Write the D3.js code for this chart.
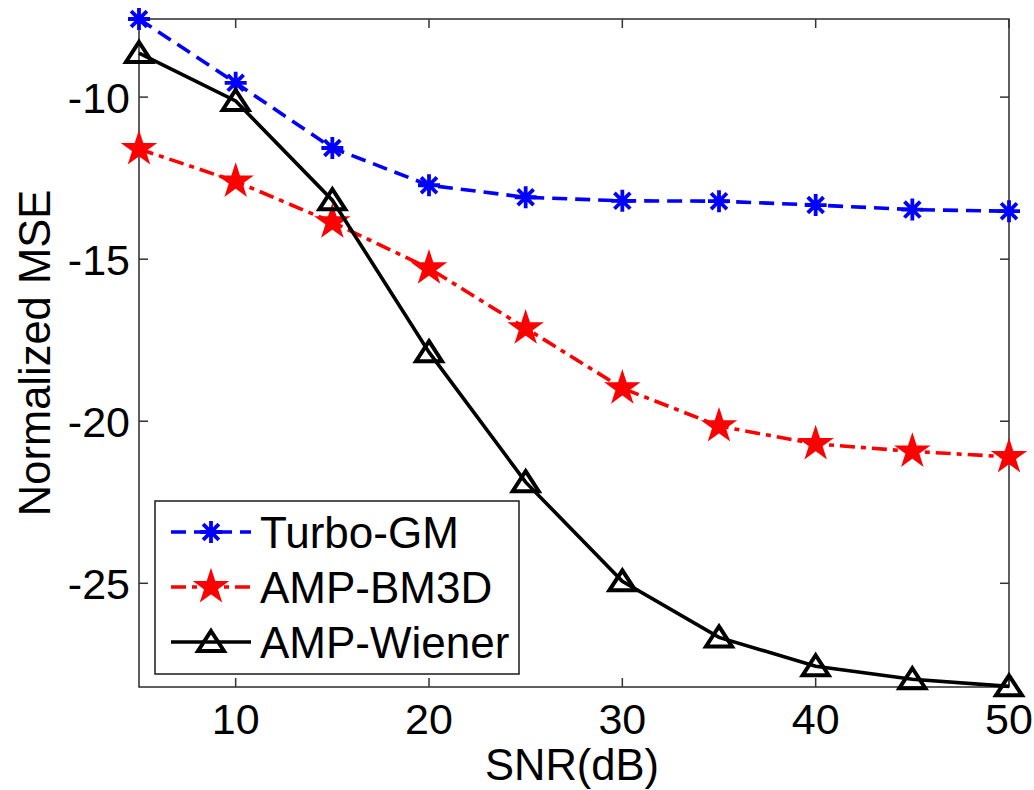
<!DOCTYPE html>
<html>
<head>
<meta charset="utf-8">
<script src="https://cdn.jsdelivr.net/npm/d3@7"></script>
<style>
  body { margin: 0; background: #fff; }
  svg { display: block; font-family: "Liberation Sans", Arial, sans-serif; }
</style>
</head>
<body>
<div id="chart"></div>
<script>
var snr = [5, 10, 15, 20, 25, 30, 35, 40, 45, 50];
var turboGM = [-7.59, -9.56, -11.57, -12.72, -13.09, -13.2, -13.21, -13.33, -13.47, -13.52];
var ampBM3D = [-11.6, -12.6, -13.86, -15.28, -17.13, -18.98, -20.15, -20.7, -20.93, -21.1];
var ampWiener = [-8.64, -10.12, -13.18, -17.87, -21.88, -24.94, -26.67, -27.56, -27.96, -28.18];
var xTicks = [10, 20, 30, 40, 50];
var yTicks = [-10, -15, -20, -25];
var seriesNames = ["Turbo-GM", "AMP-BM3D", "AMP-Wiener"];

var W = 1034, H = 790;
var margin = { top: 19, right: 25, bottom: 103, left: 139 },
    width = W - margin.left - margin.right,
    height = H - margin.top - margin.bottom;

var svg = d3.select("#chart").append("svg")
    .attr("width", W)
    .attr("height", H);

var g = svg.append("g")
    .attr("transform", "translate(" + margin.left + "," + margin.top + ")");

var x = d3.scaleLinear().domain([5, 50]).range([0, width]);
var y = d3.scaleLinear().domain([-28.2, -7.59]).range([height, 0]);

// axes box and inward ticks on all sides
g.append("rect")
    .attr("width", width).attr("height", height)
    .attr("fill", "none").attr("stroke", "#2b2b2b").attr("stroke-width", 1.5);

var tickLen = 9;
xTicks.forEach(function (t) {
    g.append("line").attr("x1", x(t)).attr("x2", x(t)).attr("y1", height).attr("y2", height - tickLen)
        .attr("stroke", "#333").attr("stroke-width", 1.5);
    g.append("line").attr("x1", x(t)).attr("x2", x(t)).attr("y1", 0).attr("y2", tickLen)
        .attr("stroke", "#333").attr("stroke-width", 1.5);
    g.append("text").attr("x", x(t)).attr("y", height + 47)
        .attr("text-anchor", "middle").style("font-size", "43px").text(t);
});
yTicks.forEach(function (t) {
    g.append("line").attr("x1", 0).attr("x2", tickLen).attr("y1", y(t)).attr("y2", y(t))
        .attr("stroke", "#333").attr("stroke-width", 1.5);
    g.append("line").attr("x1", width).attr("x2", width - tickLen).attr("y1", y(t)).attr("y2", y(t))
        .attr("stroke", "#333").attr("stroke-width", 1.5);
    g.append("text").attr("x", -9).attr("y", y(t) + 16)
        .attr("text-anchor", "end").style("font-size", "43px").text(t);
});

// axis labels
svg.append("text")
    .attr("x", margin.left + width / 2 - 2).attr("y", 780)
    .attr("text-anchor", "middle").style("font-size", "43.5px").text("SNR(dB)");
svg.append("text")
    .attr("transform", "translate(50," + (margin.top + height / 2) + ") rotate(-90)")
    .attr("text-anchor", "middle").style("font-size", "43.5px").text("Normalized MSE");

// marker shapes
function asterisk(sel, r) {
    var p = "M" + (-r) + ",0L" + r + ",0M0," + (-r) + "L0," + r;
    var d = r * 0.72;
    p += "M" + (-d) + "," + (-d) + "L" + d + "," + d + "M" + (-d) + "," + d + "L" + d + "," + (-d);
    sel.append("path").attr("d", p).attr("stroke", "#0000ff").attr("stroke-width", 3.8).attr("fill", "none");
}
function star(sel) {
    sel.append("path").attr("d", d3.symbol().type(d3.symbolStar).size(230)())
        .attr("fill", "#ff0000").attr("stroke", "#ff0000").attr("stroke-width", 3)
        .attr("stroke-linejoin", "miter");
}
function triangle(sel) {
    sel.append("path").attr("d", "M0,-11L13,9L-13,9Z")
        .attr("fill", "none").attr("stroke", "#000").attr("stroke-width", 4);
}

var series = [
    { name: seriesNames[0], values: turboGM, color: "#0000ff", dash: "15,8", marker: function (s) { asterisk(s, 11); } },
    { name: seriesNames[1], values: ampBM3D, color: "#ff0000", dash: "15,6,5,6", marker: star },
    { name: seriesNames[2], values: ampWiener, color: "#000000", dash: null, marker: triangle }
];

var line = d3.line()
    .x(function (d) { return x(d[0]); })
    .y(function (d) { return y(d[1]); });

series.forEach(function (s) {
    var pts = snr.map(function (v, i) { return [v, s.values[i]]; });
    g.append("path")
        .datum(pts)
        .attr("d", line)
        .attr("fill", "none")
        .attr("stroke", s.color)
        .attr("stroke-width", 3.6)
        .attr("stroke-dasharray", s.dash);
    pts.forEach(function (p) {
        var m = g.append("g").attr("transform", "translate(" + x(p[0]) + "," + y(p[1]) + ")");
        s.marker(m);
    });
});

// legend
var lg = svg.append("g").attr("transform", "translate(155,501)");
lg.append("rect").attr("width", 364).attr("height", 173)
    .attr("fill", "#fff").attr("stroke", "#1a1a1a").attr("stroke-width", 1.5);
series.forEach(function (s, i) {
    var cy = 31 + i * 55;
    lg.append("line").attr("x1", 16).attr("x2", 96).attr("y1", cy).attr("y2", cy)
        .attr("stroke", s.color).attr("stroke-width", 3.6).attr("stroke-dasharray", s.dash);
    var m = lg.append("g").attr("transform", "translate(56," + cy + ")");
    s.marker(m);
    lg.append("text").attr("x", 105).attr("y", cy + 16)
        .style("font-size", "44px").text(s.name);
});
</script>
</body>
</html>
